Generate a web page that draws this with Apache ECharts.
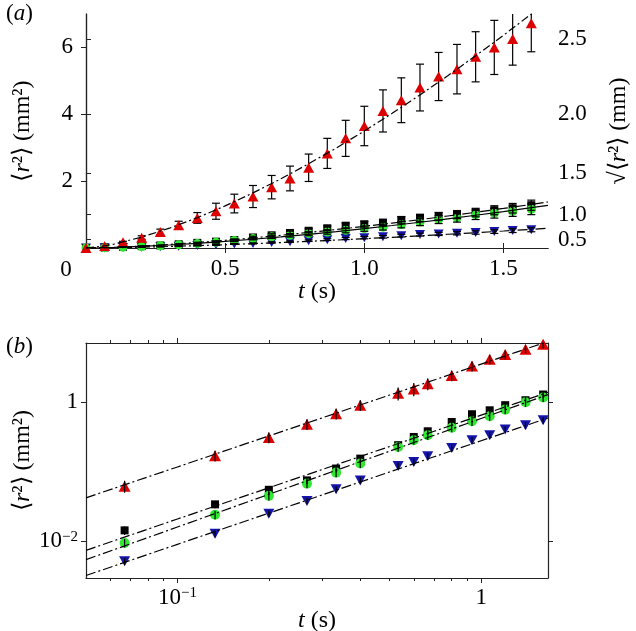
<!DOCTYPE html>
<html><head><meta charset="utf-8">
<script src="https://cdn.jsdelivr.net/npm/echarts@6/dist/echarts.min.js"></script>
<style>html,body{margin:0;padding:0;background:#fff}#c{width:636px;height:631px}</style>
</head><body><div id="c"></div>
<script>
// ---- data ----
const times = [0, 0.067, 0.133, 0.2, 0.267, 0.333, 0.4, 0.467, 0.533, 0.6, 0.667, 0.733, 0.8, 0.867, 0.933, 1.0, 1.067, 1.133, 1.2, 1.267, 1.333, 1.4, 1.467, 1.533, 1.6];
const redVals = [0, 0.062, 0.17, 0.31, 0.48, 0.68, 0.90, 1.10, 1.33, 1.54, 1.82, 2.08, 2.40, 2.83, 3.28, 3.65, 4.10, 4.42, 4.80, 5.13, 5.35, 5.72, 6.00, 6.25, 6.72];
const redErr = [0, 0.012, 0.03, 0.055, 0.085, 0.12, 0.16, 0.24, 0.28, 0.33, 0.35, 0.37, 0.41, 0.45, 0.54, 0.59, 0.63, 0.67, 0.70, 0.72, 0.74, 0.75, 0.81, 0.78, 0.85];
const blackVals = [0, 0.0144, 0.034, 0.055, 0.075, 0.111, 0.154, 0.19, 0.24, 0.315, 0.38, 0.45, 0.516, 0.59, 0.667, 0.71, 0.76, 0.84, 0.90, 0.95, 1.00, 1.06, 1.13, 1.19, 1.28];
const blackErr = [0, 0.002, 0.004, 0.007, 0.009, 0.013, 0.018, 0.023, 0.029, 0.038, 0.046, 0.054, 0.062, 0.071, 0.08, 0.085, 0.091, 0.10, 0.108, 0.114, 0.12, 0.127, 0.135, 0.143, 0.152];
const greenVals = [0, 0.0095, 0.0242, 0.045, 0.0675, 0.097, 0.131, 0.17, 0.226, 0.282, 0.333, 0.38, 0.428, 0.48, 0.528, 0.58, 0.624, 0.70, 0.778, 0.85, 0.90, 0.99, 1.04, 1.10, 1.16];
const greenErr = [0, 0.0013, 0.0034, 0.0063, 0.0095, 0.0136, 0.018, 0.024, 0.032, 0.039, 0.047, 0.053, 0.06, 0.067, 0.074, 0.081, 0.087, 0.098, 0.109, 0.119, 0.126, 0.139, 0.146, 0.154, 0.162];
const blueVals = [0, 0.0052, 0.0129, 0.025, 0.038, 0.056, 0.075, 0.095, 0.121, 0.138, 0.166, 0.19, 0.219, 0.25, 0.282, 0.31, 0.333, 0.37, 0.402, 0.42, 0.44, 0.463, 0.49, 0.52, 0.546];
const blueErr = [0, 0.0006, 0.0014, 0.0027, 0.004, 0.006, 0.008, 0.01, 0.013, 0.015, 0.018, 0.021, 0.024, 0.027, 0.031, 0.034, 0.037, 0.04, 0.044, 0.046, 0.048, 0.051, 0.054, 0.057, 0.06];
// indices of the points shown in the log-log panel
const logIdx = [1, 2, 3, 4, 5, 6, 8, 9, 10, 12, 14, 16, 18, 21, 24];
// fitted power-law lines, read at these times
const fitTimes = [0.05, 0.1, 0.2, 0.3, 0.4, 0.5, 0.6, 0.7, 0.8, 0.9, 1.0, 1.1, 1.2, 1.3, 1.4, 1.5, 1.6, 1.66];
const redFit = [0.0422, 0.117, 0.326, 0.593, 0.906, 1.259, 1.648, 2.068, 2.519, 2.996, 3.5, 4.028, 4.58, 5.155, 5.75, 6.364, 7.0, 7.391];
const blackFit = [0.00745, 0.02094, 0.0588, 0.1076, 0.1652, 0.2302, 0.3023, 0.3803, 0.4641, 0.5529, 0.647, 0.7457, 0.8489, 0.9567, 1.0683, 1.1836, 1.303, 1.3768];
const greenFit = [0.00547, 0.01608, 0.04732, 0.089, 0.1393, 0.1971, 0.2619, 0.3329, 0.4098, 0.4922, 0.58, 0.6728, 0.7703, 0.8728, 0.9795, 1.0903, 1.205, 1.2769];
const blueFit = [0.00324, 0.00908, 0.02543, 0.04645, 0.07125, 0.0992, 0.1302, 0.1636, 0.1995, 0.2377, 0.278, 0.3203, 0.3645, 0.4106, 0.4584, 0.5078, 0.559, 0.5904];
// ticks
const xTicksA = [0.5, 1.0, 1.5];
const yTicksA = [2, 4, 6];
const sqrtTicks = [0.5, 1.0, 1.5, 2.0, 2.5];
const xTicksB = [0.1, 1];
const xMinorB = [0.06, 0.07, 0.08, 0.09, 0.2, 0.3, 0.4, 0.5, 0.6, 0.7, 0.8, 0.9];
const yTicksB = [0.01, 1];

// ---- styling ----
const FONT = "'Liberation Serif', 'Times New Roman', serif";
const FS = 23;
const RED = '#dd0000', GREEN = '#30e830', BLUE = '#1414a8', BLACK = '#000000';
const AX = '#222';
const chart = echarts.init(document.getElementById('c'), null, {renderer: 'canvas'});

const ptsA = (vals) => times.map((t, i) => [t, vals[i]]);
const errA = (vals, errs) => times.map((t, i) => [t, vals[i], errs[i]]).filter((d, i) => i > 0);
const ptsB = (vals) => logIdx.map(i => [times[i], vals[i]]);
const errB = (vals, errs) => logIdx.map(i => [times[i], vals[i], errs[i]]);
const fitA = (f) => [[0, 0]].concat(fitTimes.map((t, i) => [t, f[i]]));
const fitB = (f) => fitTimes.map((t, i) => [t, f[i]]);

function errRender(capHalf) {
  return function (params, api) {
    const t = api.value(0), v = api.value(1), e = api.value(2);
    const p1 = api.coord([t, v + e]), p2 = api.coord([t, v - e]);
    const st = {stroke: '#000', lineWidth: 1.2};
    const ch = [{type: 'line', shape: {x1: p1[0], y1: p1[1], x2: p2[0], y2: p2[1]}, style: st}];
    if (capHalf > 0) {
      ch.push({type: 'line', shape: {x1: p1[0] - capHalf, y1: p1[1], x2: p1[0] + capHalf, y2: p1[1]}, style: st});
      ch.push({type: 'line', shape: {x1: p2[0] - capHalf, y1: p2[1], x2: p2[0] + capHalf, y2: p2[1]}, style: st});
    }
    return {type: 'group', children: ch};
  };
}

const labelStyle = {fontFamily: FONT, fontSize: FS, color: '#000',
  rich: {sup: {fontFamily: FONT, fontSize: 15, verticalAlign: 'top', color: '#000'}}};
const nameStyle = {fontFamily: FONT, fontSize: 24, color: '#000',
  rich: {i: {fontFamily: FONT, fontSize: 24, fontStyle: 'italic', color: '#000'}}};
const axLine = {show: true, lineStyle: {color: AX, width: 1.2}};
const powLabel = (v) => {
  const e = Math.round(Math.log10(v));
  return e === 0 ? '1' : '10{sup|' + (e < 0 ? '\u2212' : '') + Math.abs(e) + '}';
};
const DASHDOT = [10, 3, 2, 3];

function fitSeries(data, xi, yi, dash) {
  return {type: 'line', xAxisIndex: xi, yAxisIndex: yi, data: data, showSymbol: false, symbol: 'none',
    smooth: false, silent: true, z: 6, clip: true,
    lineStyle: {color: '#000', width: 1.2, type: dash}};
}
function scat(data, xi, yi, color, symbol, size, rotate) {
  return {type: 'scatter', xAxisIndex: xi, yAxisIndex: yi, data: data, symbol: symbol, symbolSize: size,
    symbolRotate: rotate || 0, itemStyle: {color: color, opacity: 1}, z: 4, silent: true};
}
function errSeries(data, xi, yi, cap, z) {
  return {type: 'custom', xAxisIndex: xi, yAxisIndex: yi, data: data, renderItem: errRender(cap),
    encode: {x: 0, y: 1}, clip: true, z: z, silent: true};
}
const itxt = (t, left, top) => ({type: 'text', left: left, top: top,
  style: {text: t, fontFamily: FONT, fontSize: FS, fill: '#000',
    rich: {i: {fontFamily: FONT, fontSize: FS, fontStyle: 'italic'}}}});

const option = {
  backgroundColor: '#fff',
  animation: false,
  grid: [
    {left: 86, right: 88, top: 14, height: 234, outerBoundsMode: 'none', containLabel: false},
    {left: 86, right: 88, top: 343, height: 235, outerBoundsMode: 'none', containLabel: false}
  ],
  xAxis: [
    {type: 'value', gridIndex: 0, position: 'bottom', min: 0, max: 1.66,
      name: '{i|t} (s)', nameLocation: 'middle', nameGap: 32, nameTextStyle: nameStyle, nameMoveOverlap: false,
      axisLine: axLine, splitLine: {show: false},
      axisTick: {show: true, inside: false, length: 5, customValues: xTicksA, lineStyle: {color: AX}},
      axisLabel: Object.assign({margin: 9, customValues: xTicksA, formatter: v => v.toFixed(1)}, labelStyle)},
    {type: 'value', gridIndex: 0, position: 'top', min: 0, max: 1.66,
      axisLine: axLine, splitLine: {show: false}, axisLabel: {show: false},
      axisTick: {show: true, inside: false, length: 5, customValues: xTicksA, lineStyle: {color: AX}}},
    {type: 'log', logBase: 10, gridIndex: 1, position: 'bottom', min: 0.05, max: 1.66,
      name: '{i|t} (s)', nameLocation: 'middle', nameGap: 31, nameTextStyle: nameStyle, nameMoveOverlap: false,
      axisLine: axLine, splitLine: {show: false}, minorTick: {show: false},
      axisTick: {show: true, inside: false, length: 5, customValues: xTicksB, lineStyle: {color: AX}},
      axisLabel: Object.assign({margin: 8, customValues: xTicksB, formatter: powLabel}, labelStyle)},
    {type: 'log', logBase: 10, gridIndex: 1, position: 'top', min: 0.05, max: 1.66,
      axisLine: axLine, splitLine: {show: false}, axisLabel: {show: false},
      axisTick: {show: true, inside: false, length: 5, customValues: xTicksB, lineStyle: {color: AX}}},
    {type: 'log', logBase: 10, gridIndex: 1, position: 'bottom', min: 0.05, max: 1.66,
      axisLine: {show: false}, splitLine: {show: false}, axisLabel: {show: false},
      axisTick: {show: true, inside: false, length: 3, customValues: xMinorB, lineStyle: {color: AX}}},
    {type: 'log', logBase: 10, gridIndex: 1, position: 'top', min: 0.05, max: 1.66,
      axisLine: {show: false}, splitLine: {show: false}, axisLabel: {show: false},
      axisTick: {show: true, inside: false, length: 3, customValues: xMinorB, lineStyle: {color: AX}}}
  ],
  yAxis: [
    {type: 'value', gridIndex: 0, position: 'left', min: 0, max: 7,
      name: '\u27e8{i|r}\u00b2\u27e9 (mm\u00b2)', nameLocation: 'middle', nameGap: 51, nameTextStyle: nameStyle, nameMoveOverlap: false,
      axisLine: axLine, splitLine: {show: false},
      axisTick: {show: true, inside: false, length: 5, customValues: yTicksA, lineStyle: {color: AX}},
      axisLabel: Object.assign({margin: 13, customValues: yTicksA}, labelStyle)},
    {type: 'value', gridIndex: 0, position: 'right', min: 0, max: 7,
      name: '\u221a\u27e8{i|r}\u00b2\u27e9 (mm)', nameLocation: 'middle', nameGap: 59, nameTextStyle: nameStyle, nameMoveOverlap: false,
      axisLine: axLine, splitLine: {show: false},
      axisTick: {show: true, inside: false, length: 5, customValues: sqrtTicks.map(s => s * s), lineStyle: {color: AX}},
      axisLabel: Object.assign({margin: 10, customValues: sqrtTicks.map(s => s * s),
        formatter: v => Math.sqrt(v).toFixed(1)}, labelStyle)},
    {type: 'log', logBase: 10, gridIndex: 1, position: 'left', min: 0.002985, max: 7.02,
      name: '\u27e8{i|r}\u00b2\u27e9 (mm\u00b2)', nameLocation: 'middle', nameGap: 51, nameTextStyle: nameStyle, nameMoveOverlap: false,
      axisLine: axLine, splitLine: {show: false}, minorTick: {show: false},
      axisTick: {show: true, inside: false, length: 5, customValues: yTicksB, lineStyle: {color: AX}},
      axisLabel: Object.assign({margin: 8, customValues: yTicksB, formatter: powLabel}, labelStyle)},
    {type: 'log', logBase: 10, gridIndex: 1, position: 'right', min: 0.002985, max: 7.02,
      axisLine: axLine, splitLine: {show: false}, axisLabel: {show: false}, minorTick: {show: false},
      axisTick: {show: true, inside: false, length: 5, customValues: yTicksB, lineStyle: {color: AX}}}
  ],
  graphic: [
    itxt('({i|a})', 6, 2),
    itxt('({i|b})', 6, 335),
    {type: 'text', x: 66, y: 270, style: {text: '0', fontFamily: FONT, fontSize: FS, fill: '#000',
      align: 'center', verticalAlign: 'middle'}}
  ],
  series: [
    // panel (a)
    errSeries(errA(blueVals, blueErr), 0, 0, 4, 5),
    scat(ptsA(blueVals), 0, 0, BLUE, 'triangle', [10, 9], 180),
    errSeries(errA(blackVals, blackErr), 0, 0, 4, 5),
    scat(ptsA(blackVals), 0, 0, BLACK, 'rect', 8),
    errSeries(errA(greenVals, greenErr), 0, 0, 4, 5),
    scat(ptsA(greenVals), 0, 0, GREEN, 'circle', 9),
    errSeries(errA(redVals, redErr), 0, 0, 4, 3),
    scat(ptsA(redVals), 0, 0, RED, 'triangle', [11, 10]),
    fitSeries(fitA(blueFit), 0, 0, DASHDOT),
    fitSeries(fitA(greenFit), 0, 0, 'solid'),
    fitSeries(fitA(blackFit), 0, 0, DASHDOT),
    fitSeries(fitA(redFit), 0, 0, [8, 3, 2, 3]),
    // panel (b)
    scat(ptsB(blueVals), 2, 2, BLUE, 'triangle', [11, 10], 180),
    scat(ptsB(blackVals), 2, 2, BLACK, 'rect', 8),
    scat(ptsB(greenVals), 2, 2, GREEN, 'circle', 10),
    scat(ptsB(redVals), 2, 2, RED, 'triangle', [12, 11]),
    errSeries(errB(blueVals, blueErr), 2, 2, 0, 5),
    errSeries(errB(blackVals, blackErr), 2, 2, 0, 5),
    errSeries(errB(greenVals, greenErr), 2, 2, 0, 5),
    errSeries(errB(redVals, redErr), 2, 2, 0, 5),
    fitSeries(fitB(blueFit), 2, 2, DASHDOT),
    fitSeries(fitB(greenFit), 2, 2, DASHDOT),
    fitSeries(fitB(blackFit), 2, 2, DASHDOT),
    fitSeries(fitB(redFit), 2, 2, DASHDOT)
  ]
};
chart.setOption(option);
</script></body></html>
